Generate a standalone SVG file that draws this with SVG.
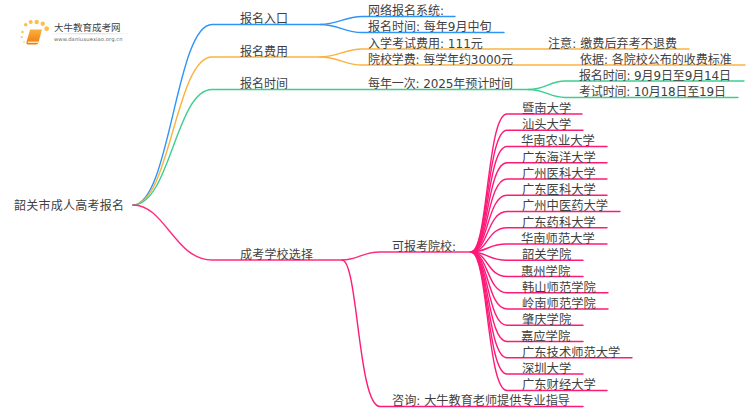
<svg xmlns="http://www.w3.org/2000/svg" width="750" height="410" viewBox="0 0 750 410">
<defs>
<linearGradient id="bk" x1="0" y1="0" x2="0" y2="1"><stop offset="0" stop-color="#fbb03b"/><stop offset="1" stop-color="#ee7a12"/></linearGradient>
<linearGradient id="ul" x1="0" y1="0" x2="1" y2="0"><stop offset="0" stop-color="#bbb" stop-opacity=".2"/><stop offset=".5" stop-color="#bbb"/><stop offset="1" stop-color="#bbb" stop-opacity="0"/></linearGradient>
</defs>
<style>
text{font-family:"DejaVu Sans","Noto Sans CJK SC",sans-serif;font-size:12px;fill:#3f3f3f}
.sc text{font-size:12.300px}
.c{fill:none;stroke-width:1.4;stroke-linecap:round}
.b{stroke:#2f95f5}.o{stroke:#fbb340}.g{stroke:#3ccf91}.p{stroke:#ff2d7e}.s{stroke:#ff1a78}
.d{fill:#fbc04c}
</style>
<rect width="750" height="410" fill="#fff"/>
<g id="connectors">
<path class="c b" d="M133 205C170 205 176 24.500 212 24.500H320C338 24.500 345 16.500 362 16.500H455"/>
<path class="c b" d="M320 24.500C338 24.500 345 32.500 362 32.500H504"/>
<path class="c o" d="M133 205C170 205 176 57 212 57H320C338 57 345 49 362 49H689"/>
<path class="c o" d="M320 57C338 57 345 65 362 65H745"/>
<path class="c g" d="M133 205C170 205 176 89.500 212 89.500H528C545 89.500 550 81 565 81H744"/>
<path class="c g" d="M528 89.500C545 89.500 550 97.500 565 97.500H738"/>
<path class="c p" d="M133 205C165 205 175 260 212 260H342C358 260 362 252 380 252H471"/>
<path class="c s" d="M342 260C358 260 358 406.500 380 406.500H583"/>
<path class="c s" d="M471 252C488 252 487 114 507 114H582"/>
<path class="c s" d="M471 252C488 252 487 130.200 507 130.200H583"/>
<path class="c s" d="M471 252C488 252 487 146.500 507 146.500H607"/>
<path class="c s" d="M471 252C488 252 487 162.700 507 162.700H607"/>
<path class="c s" d="M471 252C488 252 487 179 507 179H607"/>
<path class="c s" d="M471 252C488 252 487 195.200 507 195.200H607"/>
<path class="c s" d="M471 252C488 252 487 211.500 507 211.500H620"/>
<path class="c s" d="M471 252C488 252 487 227.700 507 227.700H607"/>
<path class="c s" d="M471 252C488 252 487 244 507 244H607"/>
<path class="c s" d="M471 252C488 252 487 260.200 507 260.200H583"/>
<path class="c s" d="M471 252C488 252 487 276.500 507 276.500H583"/>
<path class="c s" d="M471 252C488 252 487 292.700 507 292.700H608"/>
<path class="c s" d="M471 252C488 252 487 309 507 309H608"/>
<path class="c s" d="M471 252C488 252 487 325.200 507 325.200H583"/>
<path class="c s" d="M471 252C488 252 487 341.500 507 341.500H583"/>
<path class="c s" d="M471 252C488 252 487 357.700 507 357.700H632"/>
<path class="c s" d="M471 252C488 252 487 374 507 374H583"/>
<path class="c s" d="M471 252C488 252 487 390.500 507 390.500H607"/>
</g>
<g id="logo">
<circle class="d" cx="22.500" cy="32" r="1.200"/><circle class="d" cx="25.700" cy="24.700" r="1.800"/><circle class="d" cx="30.700" cy="22" r="2"/><circle class="d" cx="36.700" cy="22" r="2.200"/><circle class="d" cx="42.700" cy="23.700" r="2.200"/><circle class="d" cx="46.700" cy="28.700" r="2.400"/><circle class="d" cx="21.700" cy="37" r="1"/><circle class="d" cx="24" cy="42" r=".8"/>
<path d="M30 29.500H42L38.500 42.500Q38 44.500 36 44.500H28Q26 44.500 26.500 42Z" fill="url(#bk)"/><path d="M28 41.500H39L38.500 43H27.500Z" fill="#fbe2b0"/>
<text x="54" y="31" style="font-size:9.500px">大牛教育成考网</text>
<rect x="52" y="33.500" width="80" height=".7" fill="url(#ul)"/>
<text x="54" y="40.500" textLength="68.500" style="font-size:5.200px;fill:#666">www.daniuxuexiao.org.cn</text>
</g>
<g id="root"><text x="14" y="210" textLength="110">韶关市成人高考报名</text></g>
<g id="n1"><text x="240" y="23" textLength="48">报名入口</text></g>
<g id="n2"><text x="240" y="56" textLength="48">报名费用</text></g>
<g id="n3"><text x="240" y="88" textLength="48">报名时间</text></g>
<g id="n4"><text x="240" y="259" textLength="73">成考学校选择</text></g>
<g id="n5"><text x="368" y="15">网络报名系统:</text></g>
<g id="n6"><text x="368" y="31">报名时间: 每年9月中旬</text></g>
<g id="n7"><text x="368" y="48">入学考试费用: 111元</text></g>
<g id="n8"><text x="548" y="48" textLength="129">注意: 缴费后弃考不退费</text></g>
<g id="n9"><text x="368" y="64" textLength="145">院校学费: 每学年约3000元</text></g>
<g id="n10"><text x="580" y="64">依据: 各院校公布的收费标准</text></g>
<g id="n11"><text x="368" y="88" textLength="145">每年一次: 2025年预计时间</text></g>
<g id="n12"><text x="579" y="80" textLength="152">报名时间: 9月9日至9月14日</text></g>
<g id="n13"><text x="579" y="96" textLength="147">考试时间: 10月18日至19日</text></g>
<g id="n14"><text x="392" y="251">可报考院校:</text></g>
<g id="n15"><text x="392" y="405" style="font-size:12.150px">咨询: 大牛教育老师提供专业指导</text></g>
<g class="sc">
<g id="s1"><text x="522" y="113">暨南大学</text></g>
<g id="s2"><text x="522" y="129">汕头大学</text></g>
<g id="s3"><text x="521" y="145">华南农业大学</text></g>
<g id="s4"><text x="522" y="162">广东海洋大学</text></g>
<g id="s5"><text x="522" y="178">广州医科大学</text></g>
<g id="s6"><text x="522" y="194">广东医科大学</text></g>
<g id="s7"><text x="522" y="210">广州中医药大学</text></g>
<g id="s8"><text x="522" y="227">广东药科大学</text></g>
<g id="s9"><text x="521" y="243">华南师范大学</text></g>
<g id="s10"><text x="522" y="259">韶关学院</text></g>
<g id="s11"><text x="521" y="276">惠州学院</text></g>
<g id="s12"><text x="522" y="292">韩山师范学院</text></g>
<g id="s13"><text x="522" y="308">岭南师范学院</text></g>
<g id="s14"><text x="522" y="324">肇庆学院</text></g>
<g id="s15"><text x="521" y="341">嘉应学院</text></g>
<g id="s16"><text x="522" y="357">广东技术师范大学</text></g>
<g id="s17"><text x="522" y="373">深圳大学</text></g>
<g id="s18"><text x="522" y="389">广东财经大学</text></g>
</g>
</svg>
